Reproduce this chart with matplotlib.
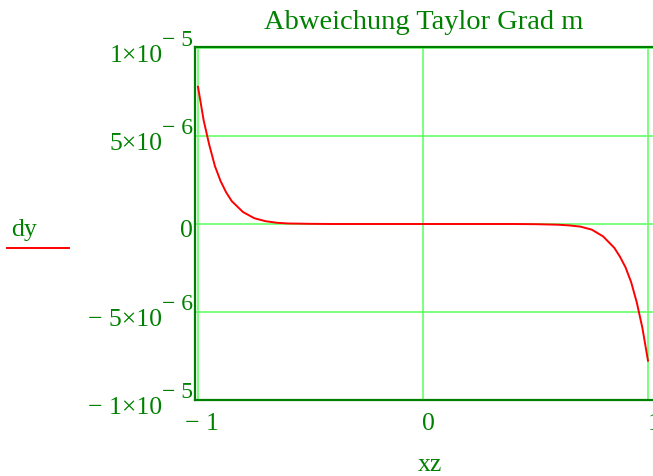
import matplotlib
matplotlib.use("Agg")
import matplotlib.pyplot as plt
from matplotlib.lines import Line2D

# Abweichung der Taylor-Näherung
xz = [-1.0, -0.975, -0.95, -0.925, -0.9, -0.875, -0.85, -0.8, -0.75, -0.7,
      -0.65, -0.6, -0.5, -0.4, 0.0, 0.4, 0.5, 0.6, 0.65, 0.7, 0.75, 0.8,
      0.85, 0.875, 0.9, 0.925, 0.95, 0.975, 1.0]
dy = [7.8e-6, 5.9e-6, 4.5e-6, 3.3e-6, 2.45e-6, 1.8e-6, 1.3e-6, 0.68e-6,
      0.33e-6, 0.16e-6, 0.07e-6, 0.03e-6, 0.01e-6, 0.0, 0.0, 0.0, -0.01e-6,
      -0.04e-6, -0.08e-6, -0.15e-6, -0.32e-6, -0.7e-6, -1.35e-6, -1.85e-6,
      -2.46e-6, -3.3e-6, -4.45e-6, -5.9e-6, -7.77e-6]

# tick labels: (value, mantissa, exponent)
ytick_vals = [1e-5, 5e-6, 0.0, -5e-6, -1e-5]
ytick_base = ["1\u00d710", "5\u00d710", "0", "\u2212 5\u00d710", "\u2212 1\u00d710"]
ytick_exp = ["\u2212 5", "\u2212 6", "", "\u2212 6", "\u2212 5"]
xtick_vals = [-1, 0, 1]
xtick_labels = ["\u2212 1", "0", "1"]

green = "#008000"
grid_green = "#66ff66"
FS = 18.5
plt.rcParams["font.family"] = ["Liberation Serif", "DejaVu Serif"]

W, H = 653, 477
fig = plt.figure(figsize=(W / 100, H / 100), dpi=100)
ax = fig.add_axes([195 / W, 1 - 401 / H, 460 / W, 353 / H])

ax.plot(xz, dy, color="#ff0000", linewidth=1.4, zorder=3)

ax.set_xlim(-1.0133, 1.0311)
ax.set_ylim(-1.0e-5, 1.0057e-5)
ax.set_xticks(xtick_vals)
ax.set_yticks(ytick_vals)
ax.tick_params(length=0, labelbottom=False, labelleft=False)
ax.grid(True, color=grid_green, linewidth=1.2, zorder=1)
for s in ax.spines.values():
    s.set_color(green)
    s.set_linewidth(1.6)

# y tick labels, Mathcad style with raised exponent
for v, b, e in zip(ytick_vals, ytick_base, ytick_exp):
    if e:
        ax.annotate(b, xy=(0, v), xycoords=("axes fraction", "data"),
                    xytext=(-23.5, -5), textcoords="offset points",
                    ha="right", va="center", color=green, fontsize=FS)
        ax.annotate(e, xy=(0, v), xycoords=("axes fraction", "data"),
                    xytext=(-23.5, 5.8), textcoords="offset points",
                    ha="left", va="center", color=green, fontsize=17)
    else:
        ax.annotate(b, xy=(0, v), xycoords=("axes fraction", "data"),
                    xytext=(-1.5, -4.3), textcoords="offset points",
                    ha="right", va="center", color=green, fontsize=FS)

# x tick labels
for v, t in zip(xtick_vals, xtick_labels):
    ha = "center" if t.startswith("\u2212") else "left"
    dx = 3 if ha == "center" else -0.5
    ax.annotate(t, xy=(v, 0), xycoords=("data", "axes fraction"),
                xytext=(dx, -16.6), textcoords="offset points",
                ha=ha, va="center", color=green, fontsize=FS,
                annotation_clip=False)

fig.text(430 / W, 1 - 465 / H, "xz", ha="center", va="center",
         color=green, fontsize=FS)
fig.text(424 / W, 1 - 29 / H, "Abweichung Taylor Grad m", ha="center",
         va="baseline", color=green, fontsize=20.5)

# legend on the left
fig.text(24 / W, 1 - 230 / H, "dy", ha="center", va="center",
         color=green, fontsize=FS)
fig.add_artist(Line2D([7 / W, 69 / W], [1 - 249 / H, 1 - 249 / H],
                      color="#ff0000", linewidth=1.4))

fig.savefig("out.png", dpi=100)
